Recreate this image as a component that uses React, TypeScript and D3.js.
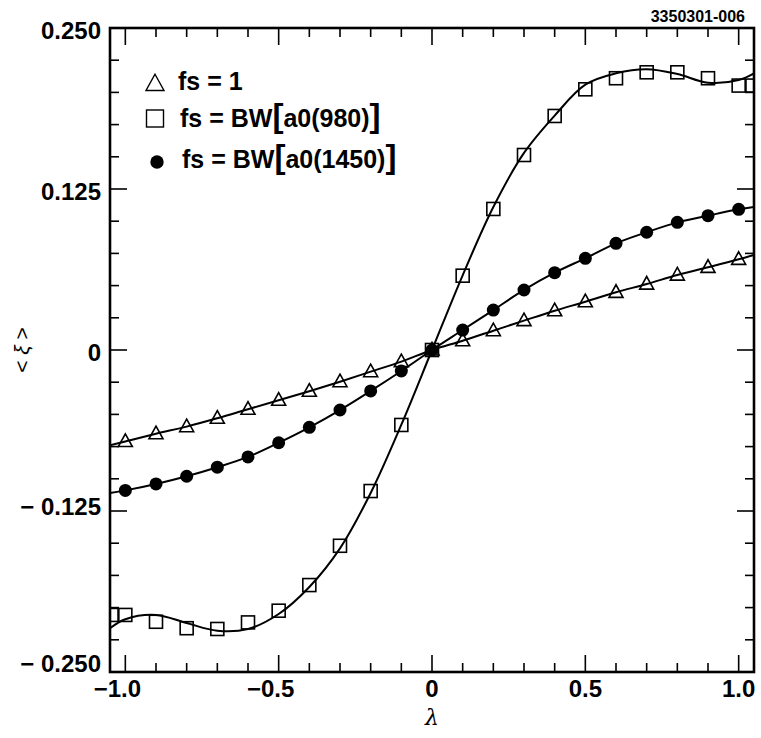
import React from "react";
import * as d3 from "d3";

// measured points, lambda = -1.0 ... 1.0
const lambdaPts = [-1.0, -0.9, -0.8, -0.7, -0.6, -0.5, -0.4, -0.3, -0.2, -0.1, 0, 0.1, 0.2, 0.3, 0.4, 0.5, 0.6, 0.7, 0.8, 0.9, 1.0];

const fsOne = [-0.071, -0.065, -0.0595, -0.053, -0.046, -0.039, -0.032, -0.0246, -0.0168, -0.009, 0, 0.0072, 0.015, 0.0228, 0.0305, 0.0375, 0.0448, 0.0512, 0.0582, 0.0642, 0.0704];
const fsA980 = [-0.2057, -0.211, -0.216, -0.2166, -0.2115, -0.2024, -0.1825, -0.152, -0.1095, -0.0582, 0, 0.0577, 0.1095, 0.1514, 0.1817, 0.2024, 0.211, 0.2156, 0.2156, 0.211, 0.2053];
const fsA1450 = [-0.109, -0.104, -0.098, -0.091, -0.083, -0.072, -0.06, -0.0466, -0.0318, -0.0163, 0, 0.0155, 0.031, 0.0466, 0.06, 0.0712, 0.0828, 0.0914, 0.0991, 0.1043, 0.1092];

// squares sitting right on the frame (clipped)
const edgeLambda = [-1.045, 1.045];
const fsA980Edge = [-0.2057, 0.2053];

// curves drawn through the points, extended to the frame
const lineLambda = [-1.05, -1.0, -0.9, -0.8, -0.7, -0.6, -0.5, -0.4, -0.3, -0.2, -0.1, 0, 0.1, 0.2, 0.3, 0.4, 0.5, 0.6, 0.7, 0.8, 0.9, 1.0, 1.05];
const fsOneLine = [-0.074, -0.071, -0.065, -0.0595, -0.053, -0.046, -0.039, -0.032, -0.0246, -0.0168, -0.009, 0, 0.0072, 0.015, 0.0228, 0.0305, 0.0375, 0.0448, 0.0512, 0.0582, 0.0642, 0.0704, 0.0738];
const fsA1450Line = [-0.111, -0.109, -0.104, -0.098, -0.091, -0.083, -0.072, -0.06, -0.0466, -0.0318, -0.0163, 0, 0.0155, 0.031, 0.0466, 0.06, 0.0712, 0.0828, 0.0914, 0.0991, 0.1043, 0.1092, 0.111];
const fsA980Fit = [-0.216, -0.209, -0.2057, -0.212, -0.218, -0.2166, -0.205, -0.184, -0.154, -0.111, -0.058, 0, 0.058, 0.111, 0.153, 0.182, 0.206, 0.2148, 0.218, 0.2143, 0.2075, 0.2096, 0.2148];

const xMajor = [-1.0, -0.5, 0, 0.5, 1.0];
const xLabels = ["\u22121.0", "\u22120.5", "0", "0.5", "1.0"];
const yMajor = [-0.25, -0.125, 0, 0.125, 0.25];
const yLabels = ["\u2212 0.250", "\u2212 0.125", "0", "0.125", "0.250"];

const W = 761;
const H = 738;
const margin = { top: 28, right: 7, bottom: 66, left: 110 };
const font = "'Liberation Sans', Arial, Helvetica, sans-serif";

const App = () => {
    const left = margin.left;
    const right = W - margin.right;
    const top = margin.top;
    const bottom = H - margin.bottom;

    const x = d3.scaleLinear().domain([-1.05, 1.05]).range([left, right]);
    const y = d3.scaleLinear().domain([-0.25, 0.25]).range([bottom, top]);

    const xMinor = d3.range(-10, 11).map((i) => i / 10).filter((v) => Math.abs(v * 2 - Math.round(v * 2)) > 1e-6);
    const yMinor = d3.range(-10, 11).map((i) => i * 0.025).filter((v) => Math.abs(v / 0.125 - Math.round(v / 0.125)) > 1e-6);

    const line = d3
        .line<number>()
        .x((_, i) => x(lineLambda[i]))
        .y((d) => y(d))
        .curve(d3.curveCatmullRom.alpha(0.5));

    const tri = (cx: number, cy: number, s: number) => {
        const h = s * 0.9;
        return `M${cx},${cy - h * 0.6}L${cx + s / 2},${cy + h * 0.4}L${cx - s / 2},${cy + h * 0.4}Z`;
    };

    const majLen = 17;
    const minLen = 9;

    return (
        <svg width={W} height={H} style={{ position: "absolute", left: 0, top: 0, background: "#fff" }}>
            <defs>
                <clipPath id="plot-clip">
                    <rect x={left} y={top} width={right - left} height={bottom - top} />
                </clipPath>
            </defs>

            {/* ticks */}
            <g stroke="#000" strokeWidth={1.6}>
                {xMajor.map((v) => (
                    <g key={"xM" + v}>
                        <line x1={x(v)} x2={x(v)} y1={bottom} y2={bottom - majLen} />
                        <line x1={x(v)} x2={x(v)} y1={top} y2={top + majLen} />
                    </g>
                ))}
                {xMinor.map((v) => (
                    <g key={"xm" + v}>
                        <line x1={x(v)} x2={x(v)} y1={bottom} y2={bottom - minLen} />
                        <line x1={x(v)} x2={x(v)} y1={top} y2={top + minLen} />
                    </g>
                ))}
                {yMajor.map((v) => (
                    <g key={"yM" + v}>
                        <line x1={left} x2={left + majLen} y1={y(v)} y2={y(v)} />
                        <line x1={right} x2={right - majLen} y1={y(v)} y2={y(v)} />
                    </g>
                ))}
                {yMinor.map((v) => (
                    <g key={"ym" + v}>
                        <line x1={left} x2={left + minLen} y1={y(v)} y2={y(v)} />
                        <line x1={right} x2={right - minLen} y1={y(v)} y2={y(v)} />
                    </g>
                ))}
            </g>

            {/* curves and markers */}
            <g clipPath="url(#plot-clip)">
                <path d={line(fsOneLine) ?? ""} fill="none" stroke="#000" strokeWidth={2} />
                <path d={line(fsA1450Line) ?? ""} fill="none" stroke="#000" strokeWidth={2} />
                <path d={line(fsA980Fit) ?? ""} fill="none" stroke="#000" strokeWidth={2} />

                {lambdaPts.map((l, i) => (
                    <path key={"t" + i} d={tri(x(l), y(fsOne[i]), 14)} fill="none" stroke="#000" strokeWidth={1.6} />
                ))}
                {lambdaPts.map((l, i) => (
                    <circle key={"c" + i} cx={x(l)} cy={y(fsA1450[i])} r={6.5} fill="#000" />
                ))}
                {lambdaPts.map((l, i) => (
                    <rect key={"s" + i} x={x(l) - 6.5} y={y(fsA980[i]) - 6.5} width={13} height={13} fill="none" stroke="#000" strokeWidth={1.6} />
                ))}
                {edgeLambda.map((l, i) => (
                    <rect key={"se" + i} x={x(l) - 6.5} y={y(fsA980Edge[i]) - 6.5} width={13} height={13} fill="none" stroke="#000" strokeWidth={1.6} />
                ))}
            </g>

            {/* frame */}
            <rect x={left} y={top} width={right - left} height={bottom - top} fill="none" stroke="#000" strokeWidth={2.6} />

            {/* tick labels */}
            <g fontFamily={font} fontWeight="bold" fontSize={24} fill="#000">
                {xMajor.map((v, i) => (
                    <text key={"xl" + v} x={x(v) + (v < 0 ? -8 : 0)} y={bottom + 25} textAnchor="middle">
                        {xLabels[i]}
                    </text>
                ))}
                {yMajor.map((v, i) => (
                    <text key={"yl" + v} x={left - 9} y={Math.min(y(v) + (v < 0 ? 4 : 11), bottom)} textAnchor="end">
                        {yLabels[i]}
                    </text>
                ))}
            </g>

            {/* axis titles */}
            <text x={432} y={725} textAnchor="middle" fontFamily="'DejaVu Serif', serif" fontStyle="italic" fontSize={22}>
                λ
            </text>
            <text transform={`translate(29, ${(top + bottom) / 2}) rotate(-90)`} textAnchor="middle" fontFamily={font} fontSize={21}>
                {"< "}
                <tspan fontStyle="italic">ξ</tspan>
                {" >"}
            </text>

            <text x={745} y={22} textAnchor="end" fontFamily={font} fontWeight="bold" fontSize={16}>
                3350301-006
            </text>

            {/* legend */}
            <g fontFamily={font} fontWeight="bold" fontSize={25} fill="#000">
                <path d={tri(155, 84, 18)} fill="none" stroke="#000" strokeWidth={1.4} />
                <text x={178} y={90}>fs = 1</text>

                <rect x={146.5} y={110} width={17} height={17} fill="none" stroke="#000" strokeWidth={1.4} />
                <text x={180} y={127}>
                    fs = BW<tspan fontSize={33}>[</tspan>a0(980)<tspan fontSize={33}>]</tspan>
                </text>

                <circle cx={157} cy={162} r={6.7} fill="#000" />
                <text x={182} y={168}>
                    fs = BW<tspan fontSize={33}>[</tspan>a0(1450)<tspan fontSize={33}>]</tspan>
                </text>
            </g>
        </svg>
    );
};

export default App;
